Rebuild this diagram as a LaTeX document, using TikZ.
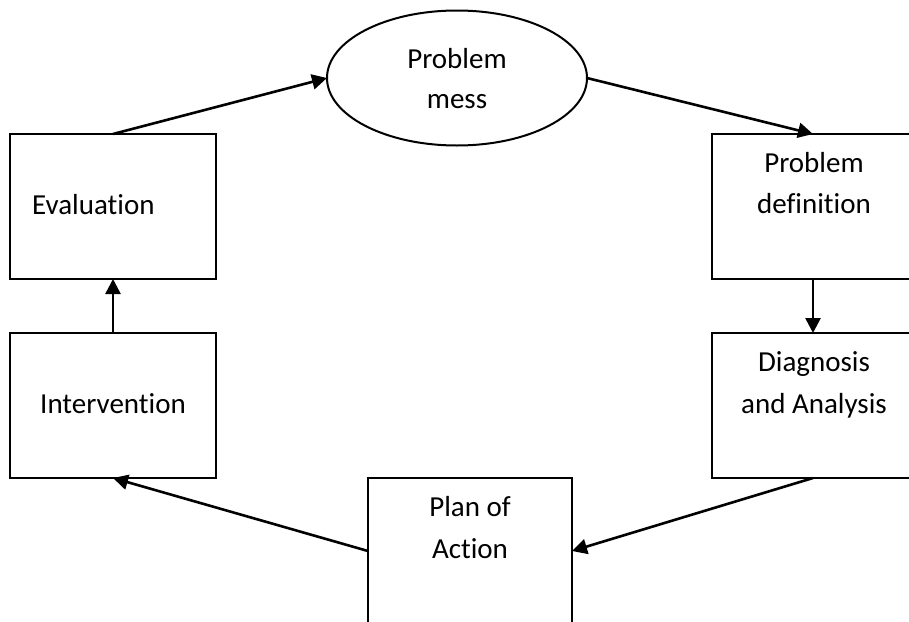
\documentclass[tikz,border=0pt]{standalone}
\usepackage{fontspec}
\setmainfont{Carlito}[Ligatures=NoCommon]
\usetikzlibrary{arrows.meta,shapes.geometric}

\tikzset{
  stage/.style={draw, line width=2pt, rectangle, inner sep=0pt, outer sep=0pt,
    minimum width=#1, minimum height=145pt},
  stage/.default=206pt,
  cloud/.style={draw, line width=2pt, ellipse, inner sep=0pt, outer sep=0pt,
    minimum width=260pt, minimum height=135pt},
  caption/.style={anchor=base, inner sep=0pt, font=\fontsize{29}{41}\selectfont},
  flow/.style={line width=2.6pt, -{Triangle[length=15pt,width=15pt]}}
}

\begin{document}
\begin{tikzpicture}[x=1pt,y=-1pt]
  \useasboundingbox (0,0) rectangle (909,621);
  \clip (0,0) rectangle (909,621);

  % stages of the cycle
  \node[cloud] (mess) at (457,78) {};
  \node[stage] (eval) at (113,206.5) {};
  \node[stage] (interv) at (113,405.5) {};
  \node[stage=202pt] (pdef) at (813,206.5) {};
  \node[stage=202pt] (diag) at (813,405.5) {};
  \node[stage=204pt, minimum height=146pt] (plan) at (470,551) {};

  % captions
  \node[caption] (messA) at (457,68) {Problem};
  \node[caption] (messB) at (457,108) {mess};
  \node[caption, anchor=base west] (evalT) at (32,214) {Evaluation};
  \node[caption] (intervT) at (113,413) {Intervention};
  \node[caption] (pdefA) at (814,172) {Problem};
  \node[caption] (pdefB) at (814,213) {definition};
  \node[caption] (diagA) at (814,371) {Diagnosis};
  \node[caption] (diagB) at (814,413) {and Analysis};
  \node[caption] (planA) at (470,516) {Plan of};
  \node[caption] (planB) at (470,558) {Action};

  % cycle arrows
  \draw[flow] (eval.north) -- (mess.west);
  \draw[flow] (mess.east) -- (pdef.north);
  \draw[flow] (pdef.south) -- (diag.north);
  \draw[flow] (diag.south) -- (plan.east);
  \draw[flow] (plan.west) -- (interv.south);
  \draw[flow] (interv.north) -- (eval.south);
\end{tikzpicture}
\end{document}
